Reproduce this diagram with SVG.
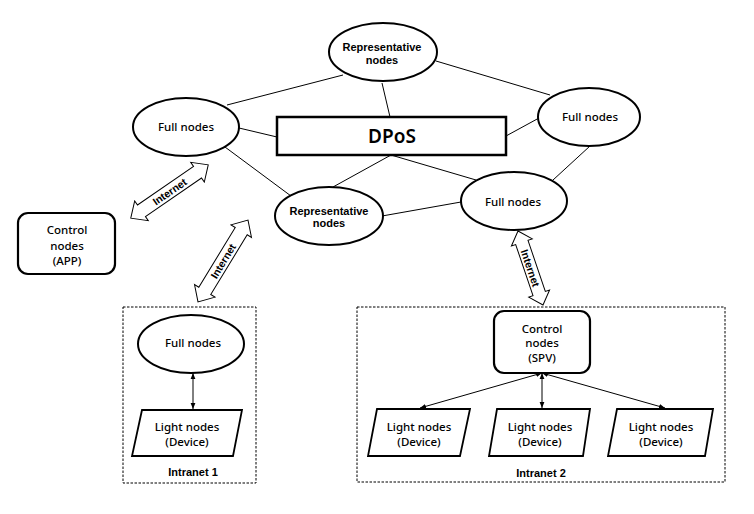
<svg xmlns="http://www.w3.org/2000/svg" width="754" height="514" viewBox="0 0 754 514">
<style>
.bg{fill:#fff}
.el{fill:#fff;stroke:#000;stroke-width:2}
.box{fill:#fff;stroke:#000;stroke-width:2.2}
.par{fill:#fff;stroke:#000;stroke-width:1.8}
.dash{fill:none;stroke:#000;stroke-width:1;stroke-dasharray:2.5,1.5}
.ln{stroke:#000;stroke-width:1;fill:none}
.arr{stroke:#000;stroke-width:1;fill:none;marker-start:url(#ah);marker-end:url(#ah)}
.dbl{fill:#fff;stroke:#000;stroke-width:1}
.t{font-family:"Noto Sans","Liberation Sans",sans-serif;font-size:11.5px;font-weight:500;fill:#000;text-anchor:middle}
.b{font-family:"Liberation Sans",Arial,sans-serif;font-size:11px;font-weight:bold;fill:#000;text-anchor:middle}
.i{font-family:"Liberation Sans",Arial,sans-serif;font-size:10.5px;font-weight:bold;fill:#000;text-anchor:middle}
.d{font-family:"Noto Sans","Liberation Sans",sans-serif;font-size:19px;font-weight:600;fill:#000;text-anchor:middle}
</style>
<defs>
<marker id="ah" viewBox="0 0 10 10" refX="10" refY="5" markerWidth="6" markerHeight="6" orient="auto-start-reverse" markerUnits="userSpaceOnUse">
<path d="M0,1 L10,5 L0,9 Z" fill="#000"/>
</marker>
</defs>
<rect class="bg" x="0" y="0" width="754" height="514"/>

<g id="connectors">
<line class="ln" x1="227" y1="105" x2="343" y2="75"/>
<line class="ln" x1="239" y1="128" x2="277" y2="137"/>
<line class="ln" x1="225" y1="147" x2="291" y2="196"/>
<line class="ln" x1="382" y1="83" x2="390" y2="117"/>
<line class="ln" x1="436" y1="61" x2="550" y2="95"/>
<line class="ln" x1="506" y1="136" x2="539" y2="118"/>
<line class="ln" x1="391" y1="155" x2="333" y2="187"/>
<line class="ln" x1="391" y1="155" x2="476" y2="180"/>
<line class="ln" x1="382" y1="216" x2="461" y2="202"/>
<line class="ln" x1="590" y1="146" x2="553" y2="180"/>
<line class="arr" x1="193" y1="373" x2="193" y2="409"/>
<line class="arr" x1="542" y1="373" x2="420" y2="408"/>
<line class="arr" x1="542" y1="373" x2="542" y2="408"/>
<line class="arr" x1="542" y1="373" x2="665" y2="408"/>
<g transform="translate(169.5,191.5) rotate(-34.5)">
<path class="dbl" d="M-47,0 L-34,-12 L-34,-7 L34,-7 L34,-12 L47,0 L34,12 L34,7 L-34,7 L-34,12 Z"/>
<text class="i" x="0" y="4">Internet</text>
</g>
<g transform="translate(223,261) rotate(-58.6)">
<path class="dbl" d="M-48,0 L-35,-12 L-35,-7 L35,-7 L35,-12 L48,0 L35,12 L35,7 L-35,7 L-35,12 Z"/>
<text class="i" x="0" y="4">Internet</text>
</g>
<g transform="translate(530.5,268) rotate(71.3)">
<path class="dbl" d="M-39,0 L-27,-11 L-27,-6.5 L27,-6.5 L27,-11 L39,0 L27,11 L27,6.5 L-27,6.5 L-27,11 Z"/>
<text class="i" x="0" y="4">Internet</text>
</g>
</g>

<g id="intranet1">
<rect class="dash" x="123" y="307" width="133" height="176"/>
<text class="b" x="193" y="476">Intranet 1</text>
</g>
<g id="intranet2">
<rect class="dash" x="357" y="307" width="368" height="175"/>
<text class="b" x="541" y="477">Intranet 2</text>
</g>

<g id="rep-top">
<ellipse class="el" cx="383" cy="52" rx="54" ry="29"/>
<text class="b" x="382" y="51">Representative</text>
<text class="b" x="382" y="64">nodes</text>
</g>
<g id="full-left">
<ellipse class="el" cx="186" cy="127" rx="53" ry="29"/>
<text class="t" x="186" y="131">Full nodes</text>
</g>
<g id="dpos">
<rect x="277" y="117" width="229" height="38" fill="#fff" stroke="#000" stroke-width="2.5"/>
<text class="d" x="392" y="143">DPoS</text>
</g>
<g id="full-right">
<ellipse class="el" cx="589" cy="117" rx="51" ry="29"/>
<text class="t" x="590" y="121">Full nodes</text>
</g>
<g id="rep-bottom">
<ellipse class="el" cx="329" cy="216" rx="54" ry="29"/>
<text class="b" x="329" y="215">Representative</text>
<text class="b" x="329" y="227">nodes</text>
</g>
<g id="full-mid">
<ellipse class="el" cx="514" cy="201" rx="53" ry="29"/>
<text class="t" x="513" y="206">Full nodes</text>
</g>
<g id="control-app">
<rect class="box" x="18" y="213" width="97" height="61" rx="10"/>
<text class="t" x="67" y="234">Control</text>
<text class="t" x="67" y="250">nodes</text>
<text class="t" x="67" y="265">(APP)</text>
</g>
<g id="full-intranet1">
<ellipse class="el" cx="191" cy="344" rx="53" ry="29"/>
<text class="t" x="193" y="347">Full nodes</text>
</g>
<g id="light-1">
<polygon class="par" points="142,410 242,410 233,456 132,456"/>
<text class="t" x="187" y="431">Light nodes</text>
<text class="t" x="187" y="446">(Device)</text>
</g>
<g id="control-spv">
<rect class="box" x="494" y="311" width="96" height="62" rx="10"/>
<text class="t" x="542" y="333">Control</text>
<text class="t" x="542" y="347">nodes</text>
<text class="t" x="542" y="362">(SPV)</text>
</g>
<g id="light-2a">
<polygon class="par" points="377,409 470,409 460,456 368,456"/>
<text class="t" x="419" y="431">Light nodes</text>
<text class="t" x="419" y="446">(Device)</text>
</g>
<g id="light-2b">
<polygon class="par" points="497,409 590,409 583,456 489,456"/>
<text class="t" x="540" y="431">Light nodes</text>
<text class="t" x="540" y="446">(Device)</text>
</g>
<g id="light-2c">
<polygon class="par" points="617,409 713,409 705,456 608,456"/>
<text class="t" x="661" y="431">Light nodes</text>
<text class="t" x="661" y="446">(Device)</text>
</g>
</svg>
